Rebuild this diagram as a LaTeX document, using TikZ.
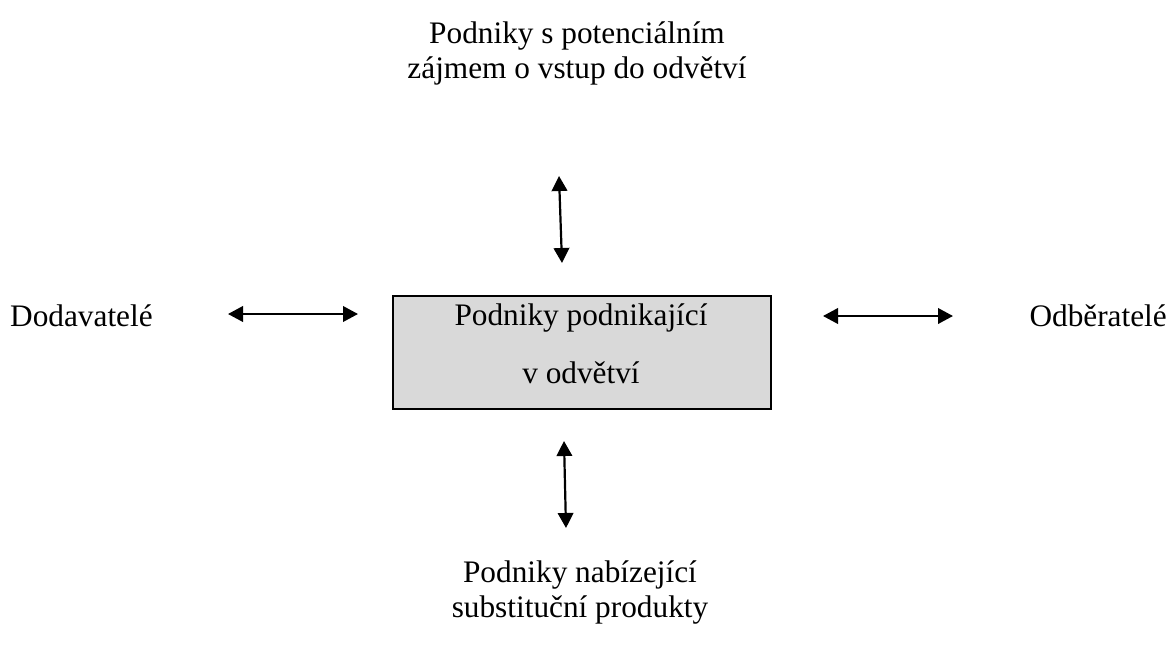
\documentclass[tikz,border=0pt]{standalone}
\usepackage{fontspec}
\setmainfont{Liberation Serif}
\usetikzlibrary{arrows.meta}
\begin{document}
\begin{tikzpicture}[x=1pt,y=-1pt,
  lbl/.style={inner sep=0pt,font=\fontsize{31.3pt}{35pt}\selectfont},
  block/.style={lbl,align=center},
  firmbox/.style={draw=black,line width=2.6pt,fill=boxgray,inner sep=0pt,
    minimum width=378pt,minimum height=113pt},
  force/.style={line width=2.2pt,{Triangle[length=15pt,width=15.5pt]}-{Triangle[length=15pt,width=15.5pt]}}]
  \definecolor{boxgray}{HTML}{D9D9D9}
  \useasboundingbox (0,0) rectangle (1171,646);
  % central box: firms already in the industry
  \node[firmbox] (firms) at (582,352.5) {};
  \node[lbl,anchor=base] (firms1) at (581,325) {Podniky podnikající};
  \node[lbl,anchor=base] (firms2) at (581,383) {v odvětví};
  % the four surrounding forces
  \node[block] (entrants) at (577,53) {Podniky s potenciálním\\zájmem o vstup do odvětví};
  \node[block] (substitutes) at (580,592) {Podniky nabízející\\substituční produkty};
  \node[lbl,anchor=base west] (suppliers) at (10,326) {Dodavatelé};
  \node[lbl,anchor=base east] (buyers) at (1167,326) {Odběratelé};
  % arrow end points
  \coordinate (t1) at (559,176);
  \coordinate (t2) at (562,263);
  \coordinate (b1) at (564,441);
  \coordinate (b2) at (566,528);
  \coordinate (l1) at (228,314);
  \coordinate (l2) at (358,314);
  \coordinate (r1) at (823,316);
  \coordinate (r2) at (953,316);
  \draw[force] (t1) -- (t2);
  \draw[force] (b1) -- (b2);
  \draw[force] (l1) -- (l2);
  \draw[force] (r1) -- (r2);
\end{tikzpicture}
\end{document}
